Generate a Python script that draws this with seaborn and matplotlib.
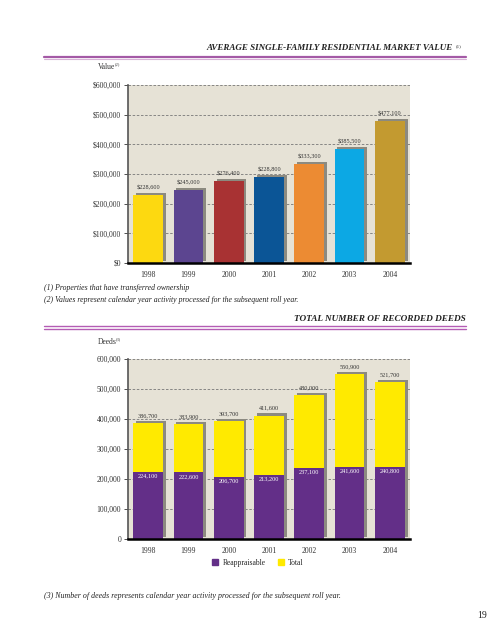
import matplotlib
matplotlib.use("Agg")
import matplotlib.pyplot as plt
import matplotlib.patheffects as pe
from matplotlib.patches import Patch
from matplotlib.ticker import FuncFormatter
import pandas as pd
import seaborn as sns

# ---- data ----
years = ["1998", "1999", "2000", "2001", "2002", "2003", "2004"]
market_value = [228600, 245000, 276400, 288800, 333300, 385500, 477100]
market_labels = ["$228,600", "$245,000", "$276,400", "$228,800", "$333,300", "$385,500", "$477,100"]
market_colors = ["#FDD910", "#5C4590", "#A83233", "#0B5596", "#EC8B33", "#0CA8E4", "#C39A30"]

deeds_total = [386700, 383900, 393700, 411600, 480000, 550900, 521700]
deeds_reappraisable = [224100, 222600, 206700, 213200, 237100, 241600, 240800]

BG = "#E6E2D6"
SHADOW = "#8C8A80"
YELLOW = "#FFEA00"
PURPLE = "#632F88"
W, H = 495, 640

sns.set_theme(style="white")
plt.rcParams["font.family"] = ["Liberation Serif", "DejaVu Serif"]

fig = plt.figure(figsize=(W / 100, H / 100), dpi=100)


def px_axes(left, top, right, bottom):
    return fig.add_axes([left / W, 1 - bottom / H, (right - left) / W, (bottom - top) / H])


def style_axes(ax, fmt):
    ax.set_facecolor(BG)
    ax.set_ylim(0, 600000)
    ax.set_yticks(range(0, 600001, 100000))
    ax.yaxis.set_major_formatter(FuncFormatter(fmt))
    ax.grid(axis="y", color="#777777", linestyle=(0, (3, 2)), linewidth=0.6)
    ax.set_axisbelow(True)
    for s in ["top", "right"]:
        ax.spines[s].set_visible(False)
    ax.spines["left"].set_color("#555555")
    ax.spines["left"].set_linewidth(1.2)
    ax.spines["bottom"].set_color("black")
    ax.spines["bottom"].set_linewidth(1.8)
    ax.tick_params(axis="y", length=3, width=0.6, labelsize=5.5, pad=2, left=True, colors="#333333")
    ax.tick_params(axis="x", length=0, labelsize=5.5, pad=6, colors="#333333")
    ax.set_xlabel("")
    ax.set_ylabel("")
    ax.set_xlim(-0.5, len(years) - 0.5)


shadow_fx = [pe.SimplePatchShadow(offset=(2, 1.5), shadow_rgbFace=SHADOW, alpha=1.0), pe.Normal()]

# ---- chart 1: market value ----
ax1 = px_axes(128, 85, 410, 263)
df1 = pd.DataFrame({"year": years, "value": market_value})
sns.barplot(data=df1, x="year", y="value", hue="year", palette=market_colors,
            width=0.74, legend=False, ax=ax1, saturation=1, linewidth=0)
for p in ax1.patches:
    p.set_path_effects(shadow_fx)
for i, (v, lab) in enumerate(zip(market_value, market_labels)):
    ax1.text(i, v + 16000, lab, ha="center", va="bottom", fontsize=4.5, color="#333333")
style_axes(ax1, lambda v, _: f"${int(v):,}")

# ---- chart 2: recorded deeds ----
ax2 = px_axes(128, 359, 410, 539)
df2 = pd.DataFrame({"year": years, "total": deeds_total, "reap": deeds_reappraisable})
sns.barplot(data=df2, x="year", y="total", color=YELLOW, width=0.74, ax=ax2,
            saturation=1, linewidth=0)
for p in ax2.patches:
    p.set_path_effects(shadow_fx)
sns.barplot(data=df2, x="year", y="reap", color=PURPLE, width=0.74, ax=ax2,
            saturation=1, linewidth=0)
for i, (t, r) in enumerate(zip(deeds_total, deeds_reappraisable)):
    ax2.text(i, t + 16000, f"{t:,}", ha="center", va="bottom", fontsize=4.5, color="#333333")
    ax2.text(i, r - 6000, f"{r:,}", ha="center", va="top", fontsize=4.5, color="white")
style_axes(ax2, lambda v, _: f"{int(v):,}")
ax2.legend([Patch(color=PURPLE), Patch(color=YELLOW)], ["Reappraisable", "Total"],
           loc="center", bbox_to_anchor=(0.46, -24 / 180), ncol=2, frameon=False,
           fontsize=5.5, handlelength=0.8, handleheight=0.8, columnspacing=1.6,
           handletextpad=0.6, borderaxespad=0)

# ---- page text ----
def ftext(x, y, s, **kw):
    fig.text(x / W, 1 - y / H, s, **kw)


def rule(y, color, lw):
    fig.add_artist(plt.Line2D([44 / W, 466 / W], [1 - y / H, 1 - y / H], color=color, linewidth=lw))


ftext(453, 48, "AVERAGE SINGLE-FAMILY RESIDENTIAL MARKET VALUE", ha="right", va="center",
      fontsize=6.5, fontweight="bold", fontstyle="italic", color="#222222")
ftext(456, 46, "(1)", ha="left", va="center", fontsize=3.5, color="#222222")
rule(57, "#A45AA6", 1.6)
rule(58.5, "#D7B3D6", 0.8)
ftext(98, 67, "Value", ha="left", va="center", fontsize=5.5, color="#333333")
ftext(114.5, 64.5, "(2)", ha="left", va="center", fontsize=3.3, color="#333333")

ftext(44, 288, "(1) Properties that have transferred ownership", ha="left", va="center",
      fontsize=5.6, fontstyle="italic", color="#222222")
ftext(44, 300, "(2) Values represent calendar year activity processed for the subsequent roll year.",
      ha="left", va="center", fontsize=5.6, fontstyle="italic", color="#222222")

ftext(466, 319, "TOTAL NUMBER OF RECORDED DEEDS", ha="right", va="center",
      fontsize=6.7, fontweight="bold", fontstyle="italic", color="#222222")
rule(326, "#B45CB4", 1.0)
rule(329, "#B45CB4", 1.0)
ftext(98, 342, "Deeds", ha="left", va="center", fontsize=5.5, color="#333333")
ftext(116, 339.5, "(3)", ha="left", va="center", fontsize=3.3, color="#333333")

ftext(44, 596, "(3) Number of deeds represents calendar year activity processed for the subsequent roll year.",
      ha="left", va="center", fontsize=5.7, fontstyle="italic", color="#222222")
ftext(482, 615, "19", ha="center", va="center", fontsize=7, color="#222222")

fig.savefig("out.png", dpi=100, facecolor="white")
